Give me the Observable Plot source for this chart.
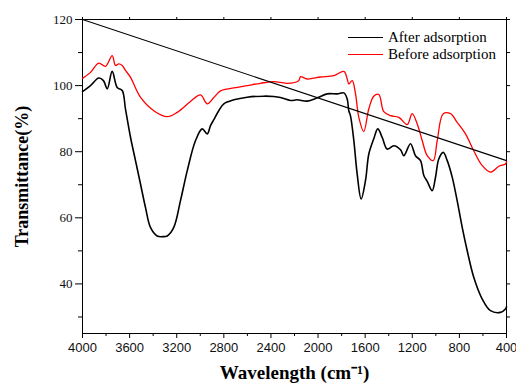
<!DOCTYPE html>
<html>
<head>
<meta charset="utf-8">
<script src="https://cdn.jsdelivr.net/npm/d3@7"></script>
<script src="https://cdn.jsdelivr.net/npm/@observablehq/plot@0.6"></script>
<style>
  html, body { margin: 0; padding: 0; background: #fff; }
  #chart { position: relative; width: 516px; height: 385px; }
  .legend { position: absolute; left: 348px; top: 29px; font: 15px "Liberation Serif", "Times New Roman", serif; color: #000; }
  .legend .row { display: flex; align-items: center; height: 17px; }
  .legend .swatch { width: 35px; height: 0; margin-right: 5px; }
</style>
</head>
<body>
<div id="chart"></div>
<script>
// FTIR spectra: wavenumber (cm-1) and transmittance (%)
const afterX = [4000, 3932, 3862, 3822, 3790, 3748, 3705, 3663, 3635, 3592, 3550, 3508, 3465, 3423, 3366, 3320, 3281, 3225, 3168, 3111, 3041, 2984, 2941, 2913, 2885, 2843, 2800, 2715, 2602, 2461, 2376, 2319, 2234, 2177, 2092, 2007, 1922, 1837, 1781, 1753, 1739, 1725, 1696, 1668, 1634, 1597, 1569, 1527, 1493, 1455, 1413, 1357, 1300, 1272, 1215, 1173, 1130, 1102, 1073, 1031, 1003, 975, 937, 903, 861, 819, 776, 734, 678, 606, 536, 451, 409, 400];
const afterY = [98.2, 100.0, 102.3, 101.5, 99.0, 104.3, 99.4, 98.5, 92.9, 84.3, 77.3, 70.3, 63.1, 57.1, 54.5, 54.3, 54.5, 57.1, 65.2, 74.2, 83.3, 86.9, 85.4, 87.9, 89.7, 92.4, 94.5, 95.7, 96.5, 96.8, 96.7, 96.4, 95.5, 95.7, 95.3, 96.3, 97.5, 97.5, 97.8, 96.0, 92.4, 90.9, 83.3, 73.3, 65.7, 71.3, 79.3, 83.9, 86.9, 84.3, 80.8, 81.8, 80.6, 78.8, 82.4, 78.8, 77.3, 72.8, 71.0, 68.2, 72.2, 77.8, 79.8, 77.3, 72.3, 65.2, 57.1, 50.1, 42.0, 35.4, 31.9, 31.4, 32.4, 33.1];

const beforeX = [4000, 3932, 3862, 3805, 3748, 3720, 3692, 3663, 3635, 3592, 3508, 3395, 3281, 3196, 3083, 2998, 2941, 2885, 2828, 2715, 2602, 2489, 2376, 2262, 2164, 2149, 2092, 1979, 1866, 1781, 1753, 1739, 1710, 1682, 1654, 1612, 1569, 1527, 1484, 1442, 1385, 1314, 1243, 1201, 1158, 1116, 1073, 1022, 988, 937, 875, 819, 748, 678, 606, 536, 465, 409, 400];
const beforeY = [102.2, 104.0, 106.8, 105.8, 109.1, 106.1, 106.6, 106.1, 104.6, 102.5, 96.5, 92.4, 90.6, 91.9, 95.2, 97.2, 94.5, 96.4, 98.4, 99.3, 100.0, 100.7, 101.2, 100.7, 101.5, 102.7, 102.0, 102.6, 103.0, 104.3, 102.1, 100.5, 101.5, 97.5, 90.4, 86.1, 93.0, 96.8, 97.3, 92.1, 90.9, 90.4, 88.2, 91.5, 88.4, 83.4, 78.8, 77.3, 83.4, 91.5, 91.5, 88.9, 85.4, 80.3, 75.8, 73.8, 75.6, 76.3, 77.0];

// straight reference line across the spectrum
const baselineX = [4000, 400];
const baselineY = [120, 77.3];

const xMajor = [4000, 3600, 3200, 2800, 2400, 2000, 1600, 1200, 800, 400];
const xMinor = [3800, 3400, 3000, 2600, 2200, 1800, 1400, 1000, 600];
const yMajor = [40, 60, 80, 100, 120];
const yMinor = [30, 50, 70, 90, 110];

const seriesNames = ["After adsorption", "Before adsorption"];
const seriesColors = ["#000000", "#ff0000"];

const toRows = (xs, ys) => xs.map((x, i) => ({x, y: ys[i]}));
const after = toRows(afterX, afterY);
const before = toRows(beforeX, beforeY);
const baseline = toRows(baselineX, baselineY);

const sans = "'Liberation Sans', Arial, sans-serif";
const serif = "'Liberation Serif', 'Times New Roman', serif";

const chart = Plot.plot({
  width: 516,
  height: 385,
  marginLeft: 82,
  marginRight: 10,
  marginTop: 19,
  marginBottom: 52,
  style: {background: "#fff", color: "#000", overflow: "visible"},
  x: {domain: [4000, 400]},
  y: {domain: [25, 120]},
  marks: [
    Plot.frame({stroke: "#000", strokeWidth: 1}),
    // bottom axis
    Plot.axisX({anchor: "bottom", ticks: xMajor, tickSize: 5, tickFormat: d => String(d),
      label: null, fontFamily: sans, fontSize: 13, fill: "#111"}),
    Plot.axisX({anchor: "bottom", ticks: xMinor, tickSize: 3, tickFormat: () => "", label: null}),
    // top ticks
    Plot.axisX({anchor: "top", ticks: xMajor, tickSize: 3, tickFormat: () => "", label: null}),
    // left axis
    Plot.axisY({anchor: "left", ticks: yMajor, tickSize: 7, tickFormat: d => String(d),
      label: null, fontFamily: serif, fontSize: 13, fill: "#111"}),
    Plot.axisY({anchor: "left", ticks: yMinor, tickSize: 4, tickFormat: () => "", label: null}),
    // right ticks
    Plot.axisY({anchor: "right", ticks: yMajor.concat(yMinor), tickSize: 3, tickFormat: () => "", label: null}),
    // spectra
    Plot.line(before, {x: "x", y: "y", stroke: seriesColors[1], strokeWidth: 1.3, curve: "catmull-rom"}),
    Plot.line(after, {x: "x", y: "y", stroke: seriesColors[0], strokeWidth: 1.6, curve: "catmull-rom"}),
    Plot.line(baseline, {x: "x", y: "y", stroke: "#000", strokeWidth: 1.1}),
    // axis titles
    Plot.text(["Wavelength (cm⁻¹)"], {frameAnchor: "bottom", dy: 39, text: d => d,
      lineAnchor: "middle", textAnchor: "middle",
      fontFamily: serif, fontSize: 19, fontWeight: "bold", fill: "#000"}),
    Plot.text(["Transmittance(%)"], {frameAnchor: "left", dx: -60, rotate: -90, text: d => d,
      lineAnchor: "middle", textAnchor: "middle",
      fontFamily: serif, fontSize: 18, fontWeight: "bold", fill: "#000"})
  ]
});

const host = document.getElementById("chart");
host.appendChild(chart);

// legend in the upper right of the plot area
const legend = document.createElement("div");
legend.className = "legend";
seriesNames.forEach((name, i) => {
  const row = document.createElement("div");
  row.className = "row";
  const sw = document.createElement("span");
  sw.className = "swatch";
  sw.style.borderTop = `1.5px solid ${seriesColors[i]}`;
  const label = document.createElement("span");
  label.textContent = name;
  row.append(sw, label);
  legend.appendChild(row);
});
host.appendChild(legend);
</script>
</body>
</html>
